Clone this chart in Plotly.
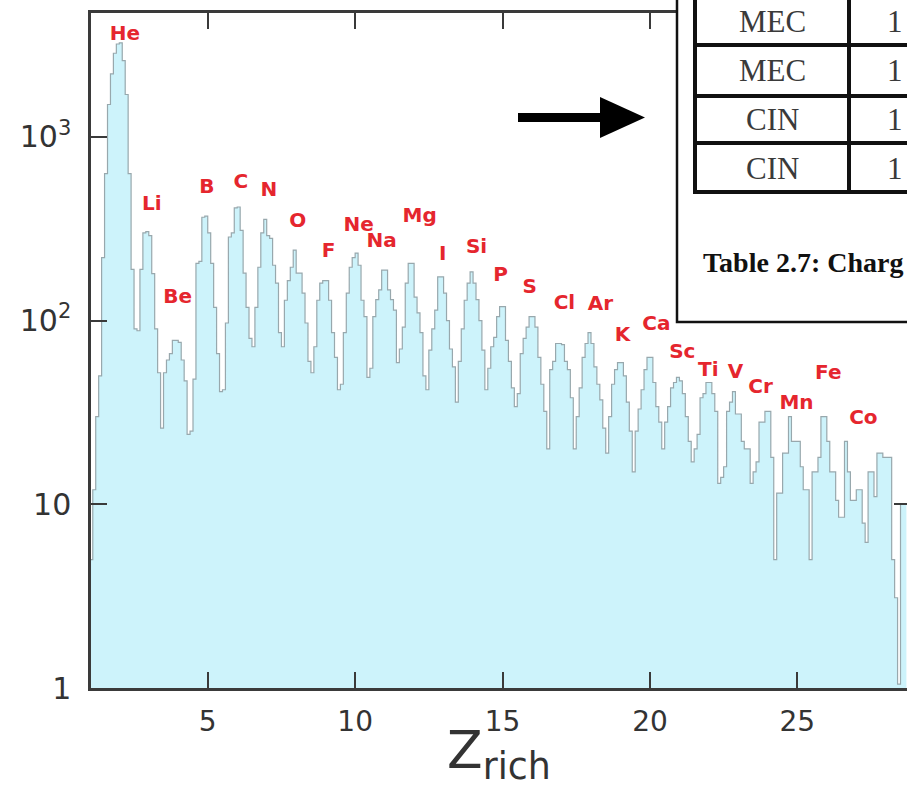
import plotly.graph_objects as go

# ---------------- data ----------------
bin_start = 1.0
bin_width = 0.1

# counts per 0.1 bin, Z_rich from 1.0 to 28.7
counts_he_be = [5, 12, 30, 50, 220, 630, 1500, 2200, 2850, 3200,
                3250, 2600, 1700, 630, 190, 90, 88, 190, 300, 305,
                290, 180, 90, 52, 26, 52, 61, 66, 78, 78,
                76, 61, 47, 24, 25, 48, 205, 210, 365, 370]
counts_b_f = [300, 205, 118, 66, 41, 42, 97, 285, 300, 410,
              415, 310, 181, 118, 80, 72, 118, 195, 300, 355,
              290, 280, 200, 160, 86, 72, 129, 165, 195, 242,
              181, 181, 141, 97, 60, 52, 72, 129, 160, 165,
              165, 129, 86, 63, 42, 45, 86, 141, 195, 220]
counts_ne_si = [233, 200, 129, 105, 49, 55, 105, 130, 147, 188,
                188, 147, 130, 114, 59, 70, 92, 160, 205, 205,
                134, 110, 86, 50, 42, 69, 90, 114, 173, 173,
                141, 100, 70, 56, 36, 60, 90, 129, 160, 184,
                160, 130, 100, 69, 42, 55, 72, 81, 105, 119]
counts_p_k = [119, 78, 60, 43, 34, 40, 66, 80, 92, 105,
              105, 92, 63, 45, 32, 20, 54, 60, 75, 75,
              74, 60, 54, 38, 20, 30, 43, 63, 75, 86,
              75, 56, 45, 37, 26, 19, 30, 45, 54, 59,
              59, 50, 36, 25, 15, 25, 33, 42, 54, 63]
counts_ca_mn = [63, 46, 34, 28, 20, 28, 34, 43, 46, 49,
                47, 40, 30, 22, 17, 20, 24, 38, 40, 46,
                46, 40, 32, 13, 14, 16, 32, 36, 41, 31,
                31, 22, 20, 20, 13, 15, 17, 28, 28, 32,
                32, 18, 5, 11.5, 11.5, 19, 19, 30, 22, 22]
counts_fe_ni = [22, 16, 12, 12, 5, 15, 15, 18, 30, 30,
                22, 15, 15, 10.5, 8.5, 8.5, 22, 15, 10.5, 10.5,
                12, 12, 7.9, 6.2, 15, 15, 11, 19, 19, 18,
                18, 18, 5, 3.1, 1.05, 10, 10]

element_labels = ["He", "Li", "Be", "B", "C", "N", "O", "F", "Ne", "Na", "Mg", "I",
                  "Si", "P", "S", "Cl", "Ar", "K", "Ca", "Sc", "Ti", "V", "Cr",
                  "Mn", "Fe", "Co"]
label_x = [2.19, 3.10, 3.98, 4.97, 6.12, 7.07, 8.05, 9.10, 10.12, 10.90, 12.19, 12.97,
           14.12, 14.93, 15.92, 17.10, 18.32, 19.07, 20.22, 21.10, 21.98, 22.90, 23.75,
           24.97, 26.05, 27.24]
label_y = [3590, 426, 133, 527, 561, 507, 344, 236, 327, 268, 366, 228,
           248, 175, 150, 123, 122, 82, 95, 67, 53, 52, 43,
           35, 51, 29]

x_ticks = [5, 10, 15, 20, 25]
y_ticks = [1, 10, 100, 1000]
y_ticktext = ["1", "10", "10<sup>2</sup>", "10<sup>3</sup>"]

table_rows = ["MEC", "MEC", "CIN", "CIN"]
table_col2 = ["1", "1", "1", "1"]
caption = "Table 2.7: Charg"

# ---------------- figure ----------------
counts = counts_he_be + counts_b_f + counts_ne_si + counts_p_k + counts_ca_mn + counts_fe_ni
edges = [round(bin_start + i * bin_width, 3) for i in range(len(counts) + 1)]
step_y = counts + [counts[-1]]

W, H = 907, 788
L, R, T, B = 91, 907, 13, 688


def px(x):
    return (x - L) / (R - L)


def py(y):
    return (B - y) / (B - T)


fig = go.Figure()
fig.add_trace(go.Scatter(
    x=edges, y=step_y, mode="lines", line_shape="hv",
    line=dict(color="#98a8ad", width=1.2),
    fill="tozeroy", fillcolor="#cdf3fb", hoverinfo="skip", showlegend=False))

fig.add_trace(go.Scatter(
    x=label_x, y=label_y, mode="text", text=element_labels,
    textposition="middle center", cliponaxis=False,
    textfont=dict(family="DejaVu Sans", size=20, color="#e5262e", weight="bold"),
    hoverinfo="skip", showlegend=False))

axis_col = "#3a3a3a"
fig.update_xaxes(range=[1.04, 28.72], showline=True, linecolor=axis_col, linewidth=2.5,
                 mirror="ticks", ticks="inside", ticklen=16, tickwidth=2, tickcolor=axis_col,
                 tickvals=x_ticks, showgrid=False, zeroline=False,
                 tickfont=dict(family="DejaVu Sans", size=28, color="#333"),
                 ticklabelstandoff=7,
                 title=dict(text="Z<sub>rich</sub>", standoff=4,
                            font=dict(family="DejaVu Sans", size=52, color="#333")))
fig.update_yaxes(type="log", range=[0, 3.674], showline=True, linecolor=axis_col, linewidth=2.5,
                 mirror=False, ticks="inside", ticklen=16, tickwidth=2, tickcolor=axis_col,
                 tickvals=y_ticks, ticktext=y_ticktext, showgrid=False, zeroline=False,
                 tickfont=dict(family="DejaVu Sans", size=30, color="#333"),
                 ticklabelstandoff=11)

shapes = []
# right-hand tick at 10 peeking out at the edge
shapes.append(dict(type="line", xref="paper", yref="paper", x0=px(894), x1=px(907),
                   y0=py(504), y1=py(504), line=dict(color=axis_col, width=2), layer="above"))
# overlay box (table inset)
shapes.append(dict(type="rect", xref="paper", yref="paper", x0=px(677), x1=px(940),
                   y0=py(322), y1=py(-30), fillcolor="white",
                   line=dict(color="#111", width=2.5), layer="above"))
# table grid
grid = dict(color="#111", width=4)
for yy in [45, 96, 143, 192]:
    shapes.append(dict(type="line", xref="paper", yref="paper", x0=px(693), x1=px(930),
                       y0=py(yy), y1=py(yy), line=grid, layer="above"))
for xx in [695, 849]:
    shapes.append(dict(type="line", xref="paper", yref="paper", x0=px(xx), x1=px(xx),
                       y0=py(-10), y1=py(194), line=grid, layer="above"))
# arrow
shapes.append(dict(type="rect", xref="paper", yref="paper", x0=px(518), x1=px(603),
                   y0=py(113), y1=py(122), fillcolor="black", line=dict(width=0), layer="above"))
shapes.append(dict(type="path", xref="paper", yref="paper",
                   path=f"M {px(600)} {py(97)} L {px(645)} {py(117.5)} L {px(600)} {py(138)} Z",
                   fillcolor="black", line=dict(width=0), layer="above"))

annotations = []
row_centers = [22, 70, 119, 168]
for txt, c2, yy in zip(table_rows, table_col2, row_centers):
    annotations.append(dict(xref="paper", yref="paper", x=px(772), y=py(yy), text=txt,
                            showarrow=False, xanchor="center", yanchor="middle",
                            font=dict(family="Liberation Serif", size=31, color="#3a3a3a")))
    annotations.append(dict(xref="paper", yref="paper", x=px(905), y=py(yy), text=c2,
                            showarrow=False, xanchor="right", yanchor="middle",
                            font=dict(family="Liberation Serif", size=31, color="#3a3a3a")))
annotations.append(dict(xref="paper", yref="paper", x=px(905), y=py(262), text=caption,
                        showarrow=False, xanchor="right", yanchor="middle",
                        font=dict(family="Liberation Serif", size=28, color="#111", weight="bold")))

fig.update_layout(width=W, height=H, margin=dict(l=L, r=W - R, t=T, b=H - B),
                  paper_bgcolor="white", plot_bgcolor="white",
                  shapes=shapes, annotations=annotations, showlegend=False)

fig.write_html("out.html")
